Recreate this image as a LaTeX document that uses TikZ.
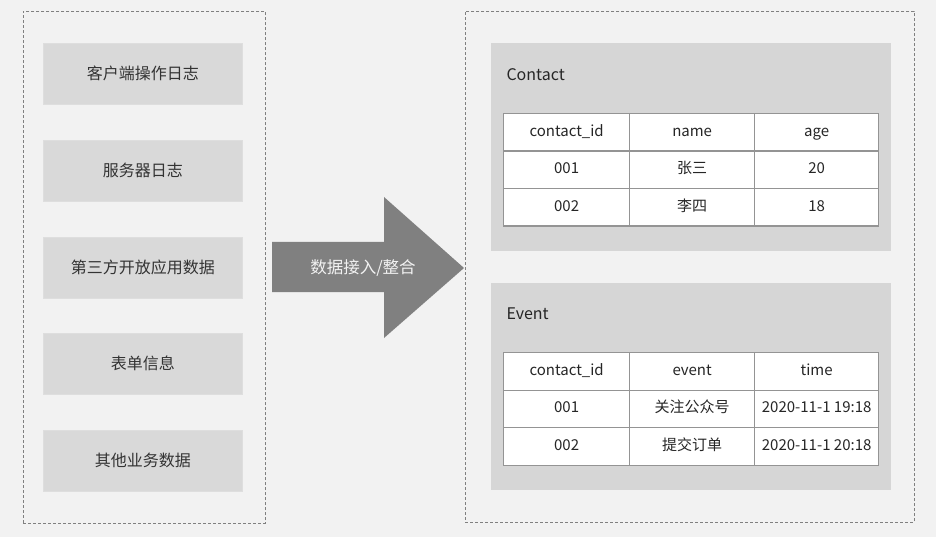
\documentclass[tikz,border=0pt]{standalone}
\usepackage{fontspec}
\setmainfont{Noto Sans CJK SC}
\begin{document}
\begin{tikzpicture}[x=1pt,y=-1pt,
  dashbox/.style={draw=black!50,line width=0.8pt,dash pattern=on 3pt off 2pt},
  srcbox/.style={fill=black!15,draw=black!13,line width=0.5pt,minimum width=199pt,minimum height=61pt,inner sep=0pt,anchor=north west,font=\fontsize{16}{19}\selectfont,text=black!80},
  panel/.style={fill=black!16,draw=none,anchor=north west,inner sep=0pt},
  ptitle/.style={anchor=west,font=\fontsize{16}{19}\selectfont,text=black!85},
  cell/.style={draw=black!42,line width=1.3pt,fill=white,minimum height=37.5pt,inner sep=0pt,text height=11pt,text depth=3pt,anchor=north west,font=\fontsize{15}{18}\selectfont,text=black!85},
  c1/.style={cell,minimum width=126pt},
  c2/.style={cell,minimum width=125pt},
  c3/.style={cell,minimum width=124pt}]
\useasboundingbox (0,0) rectangle (936,537);
\fill[black!5] (0,0) rectangle (936,537);
% left dashed container
\node[dashbox,anchor=north west,minimum width=242pt,minimum height=512pt,inner sep=0pt] (left) at (23,11) {};
\node[srcbox] (s1) at (43,43) {客户端操作日志};
\node[srcbox] (s2) at (43,140) {服务器日志};
\node[srcbox] (s3) at (43,237) {第三方开放应用数据};
\node[srcbox] (s4) at (43,333) {表单信息};
\node[srcbox] (s5) at (43,430) {其他业务数据};
% arrow
\fill[black!50] (272,242) -- (384,242) -- (384,197) -- (464,268) -- (384,338) -- (384,292) -- (272,292) -- cycle;
\node[text=black!5,font=\fontsize{16.5}{19}\selectfont] (arr) at (363,268) {数据接入/整合};
% right dashed container
\node[dashbox,anchor=north west,minimum width=449pt,minimum height=511pt,inner sep=0pt] (right) at (465,11) {};
% Contact panel
\node[panel,minimum width=400pt,minimum height=208pt] (cp) at (491,43) {};
\node[ptitle] (ct) at (503,75) {Contact};
\node[c1] (a11) at (503,113) {contact\_id};
\node[c2] (a12) at (629,113) {name};
\node[c3] (a13) at (754,113) {age};
\node[c1] (a21) at (503,150.5) {001};
\node[c2] (a22) at (629,150.5) {张三};
\node[c3] (a23) at (754,150.5) {20};
\node[c1] (a31) at (503,188) {002};
\node[c2] (a32) at (629,188) {李四};
\node[c3] (a33) at (754,188) {18};
% Event panel
\node[panel,minimum width=400pt,minimum height=207pt] (ep) at (491,283) {};
\node[ptitle] (et) at (503,314) {Event};
\node[c1] (b11) at (503,352) {contact\_id};
\node[c2] (b12) at (629,352) {event};
\node[c3] (b13) at (754,352) {time};
\node[c1] (b21) at (503,389.5) {001};
\node[c2] (b22) at (629,389.5) {关注公众号};
\node[c3] (b23) at (754,389.5) {2020-11-1 19:18};
\node[c1] (b31) at (503,427) {002};
\node[c2] (b32) at (629,427) {提交订单};
\node[c3] (b33) at (754,427) {2020-11-1 20:18};
\end{tikzpicture}
\end{document}
